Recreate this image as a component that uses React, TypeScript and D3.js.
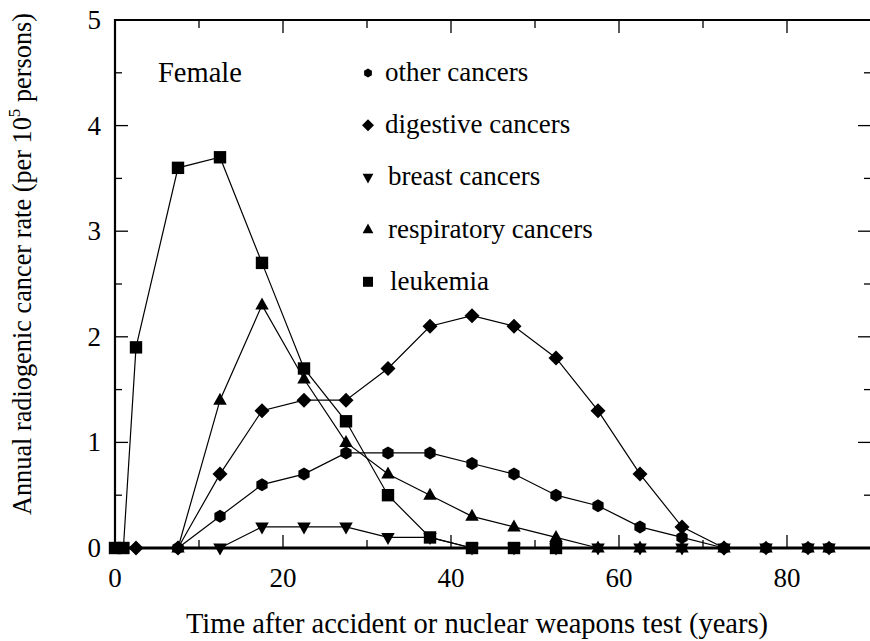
import React from 'react';
import * as d3 from 'd3';

const years = [0, 1, 2.5, 7.5, 12.5, 17.5, 22.5, 27.5, 32.5, 37.5, 42.5, 47.5, 52.5, 57.5, 62.5, 67.5, 72.5, 77.5, 82.5, 85];

const breast = [null, null, null, null, 0, 0.2, 0.2, 0.2, 0.1, 0.1, 0, 0, 0, 0, 0, 0, 0, 0, 0, 0];
const respiratory = [null, null, null, 0, 1.4, 2.3, 1.6, 1.0, 0.7, 0.5, 0.3, 0.2, 0.1, 0, 0, 0, 0, 0, 0, 0];
const other = [null, null, null, 0, 0.3, 0.6, 0.7, 0.9, 0.9, 0.9, 0.8, 0.7, 0.5, 0.4, 0.2, 0.1, 0, 0, 0, 0];
const digestive = [null, null, 0, 0, 0.7, 1.3, 1.4, 1.4, 1.7, 2.1, 2.2, 2.1, 1.8, 1.3, 0.7, 0.2, 0, null, null, null];
const leukemia = [0, 0, 1.9, 3.6, 3.7, 2.7, 1.7, 1.2, 0.5, 0.1, 0, 0, 0, null, null, null, null, null, null, null];

// legend order (top to bottom)
const legendNames = ['other cancers', 'digestive cancers', 'breast cancers', 'respiratory cancers', 'leukemia'];
const legendShapes = ['hexagon', 'diamond', 'triDown', 'triUp', 'square'];

// drawing order (later on top)
const series = [
  { shape: 'triDown', values: breast },
  { shape: 'triUp', values: respiratory },
  { shape: 'hexagon', values: other },
  { shape: 'diamond', values: digestive },
  { shape: 'square', values: leukemia },
];

const W = 870;
const H = 641;
const FONT = 'Liberation Serif';

const x = d3.scaleLinear().domain([0, 90]).range([115, 871]);
const y = d3.scaleLinear().domain([0, 5]).range([548, 20]);

function markerPath(shape: string, s: number): string {
  const pts: [number, number][] = [];
  if (shape === 'hexagon') {
    for (let i = 0; i < 6; i++) {
      const a = -Math.PI / 2 + (i * Math.PI) / 3;
      pts.push([Math.cos(a) * s, Math.sin(a) * s]);
    }
  } else if (shape === 'diamond') {
    pts.push([0, -s], [s, 0], [0, s], [-s, 0]);
  } else if (shape === 'square') {
    pts.push([-s, -s], [s, -s], [s, s], [-s, s]);
  } else if (shape === 'triUp') {
    pts.push([0, -s], [s * 0.9, s * 0.6], [-s * 0.9, s * 0.6]);
  } else {
    pts.push([0, s], [s * 0.9, -s * 0.6], [-s * 0.9, -s * 0.6]);
  }
  return 'M' + pts.map(p => p.join(',')).join('L') + 'Z';
}

const markerSize: Record<string, number> = { hexagon: 6.5, diamond: 7.5, square: 6.2, triUp: 7.5, triDown: 7.5 };
const legendSize: Record<string, number> = { hexagon: 4.5, diamond: 6, square: 5, triUp: 6, triDown: 6 };

const App: React.FC = () => {
  const line = d3.line<[number, number | null]>()
    .defined(d => d[1] !== null)
    .x(d => x(d[0]))
    .y(d => y(d[1] as number));

  const xTicks = x.ticks(9).filter(t => t > 0 && t < 90);
  const yTicks = y.ticks(10).filter(t => t > 0 && t < 5);
  const xLabels = [0, 20, 40, 60, 80];
  const yLabels = [0, 1, 2, 3, 4, 5];

  return (
    <div style={{ position: 'absolute', left: 0, top: 0 }}>
      <svg width={W} height={H} style={{ display: 'block', background: '#fff' }}>
        {/* ticks */}
        <g stroke="#000" strokeWidth={1.3}>
          {xTicks.map(t => {
            const len = t % 20 === 0 ? 13 : 8;
            return (
              <g key={'xt' + t}>
                <line x1={x(t)} x2={x(t)} y1={y(0)} y2={y(0) - len} />
                <line x1={x(t)} x2={x(t)} y1={y(5)} y2={y(5) + len} />
              </g>
            );
          })}
          {yTicks.map(t => {
            const len = t % 1 === 0 ? 13 : 7;
            return (
              <g key={'yt' + t}>
                <line x1={x(0)} x2={x(0) + len} y1={y(t)} y2={y(t)} />
                <line x1={x(90)} x2={x(90) - len} y1={y(t)} y2={y(t)} />
              </g>
            );
          })}
        </g>

        {/* frame */}
        <line x1={x(0)} x2={x(90)} y1={y(5)} y2={y(5)} stroke="#000" strokeWidth={2} />
        <line x1={x(0)} x2={x(0)} y1={y(5) - 1} y2={y(0)} stroke="#000" strokeWidth={2.2} />
        <line x1={x(90)} x2={x(90)} y1={y(5)} y2={y(0)} stroke="#000" strokeWidth={2} />
        <line x1={x(0) - 1} x2={x(90)} y1={y(0)} y2={y(0)} stroke="#000" strokeWidth={3} />

        {/* series lines */}
        {series.map((s, i) => (
          <path
            key={'l' + i}
            d={line(years.map((yr, j) => [yr, s.values[j]]) as [number, number | null][]) || ''}
            fill="none"
            stroke="#000"
            strokeWidth={1.2}
          />
        ))}

        {/* markers */}
        {series.map((s, i) => (
          <g key={'m' + i}>
            {years.map((yr, j) =>
              s.values[j] === null ? null : (
                <path
                  key={j}
                  d={markerPath(s.shape, markerSize[s.shape])}
                  transform={`translate(${x(yr)},${y(s.values[j] as number)})`}
                  fill="#000"
                />
              )
            )}
          </g>
        ))}

        {/* tick labels */}
        {xLabels.map(t => (
          <text key={'xl' + t} x={x(t)} y={587} textAnchor="middle" fontFamily={FONT} fontSize={27}>{t}</text>
        ))}
        {yLabels.map(t => (
          <text key={'yl' + t} x={101} y={y(t)} dy="0.33em" textAnchor="end" fontFamily={FONT} fontSize={27}>{t}</text>
        ))}

        {/* axis titles */}
        <text x={477} y={633} textAnchor="middle" fontFamily={FONT} fontSize={28.5}>
          Time after accident or nuclear weapons test (years)
        </text>
        <text transform="translate(31,264) rotate(-90)" textAnchor="middle" fontFamily={FONT} fontSize={26.3}>
          Annual radiogenic cancer rate (per 10
          <tspan fontSize={17} dy={-11}>5</tspan>
          <tspan dy={11}> persons)</tspan>
        </text>

        {/* annotation */}
        <text x={158} y={82} fontFamily={FONT} fontSize={28.5}>Female</text>

        {/* legend */}
        {legendNames.map((name, i) => {
          const ly = 73 + i * 52.2;
          const tx = [385, 385, 388, 388, 390][i];
          return (
            <g key={'lg' + i}>
              <path d={markerPath(legendShapes[i], legendSize[legendShapes[i]])} transform={`translate(368,${ly})`} fill="#000" />
              <text x={tx} y={ly + 8} fontFamily={FONT} fontSize={27}>{name}</text>
            </g>
          );
        })}
      </svg>
    </div>
  );
};

export default App;
